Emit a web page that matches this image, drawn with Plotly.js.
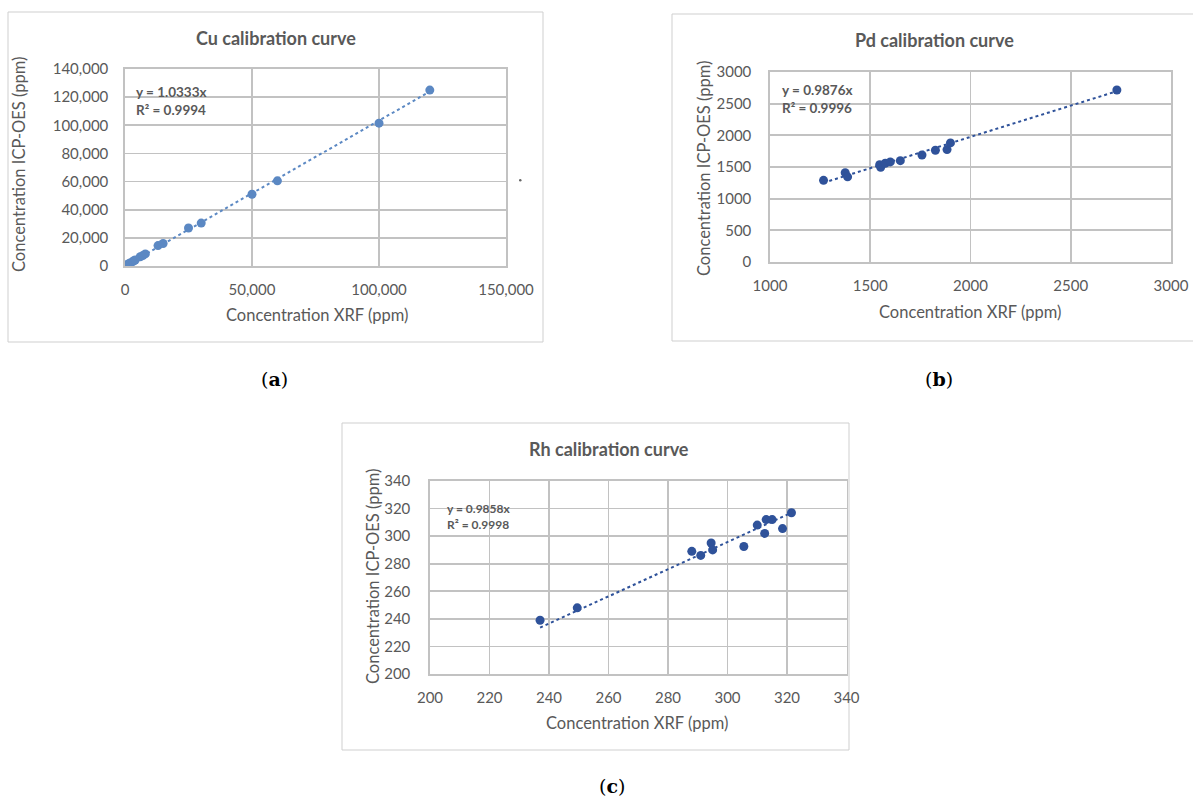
<!DOCTYPE html>
<html><head><meta charset="utf-8">
<script src="https://cdn.plot.ly/plotly-3.0.1.min.js"></script>
<style>html,body{margin:0;padding:0;background:#fff}</style>
</head><body><div id="chart" style="width:1193px;height:801px"></div>
<script>
// ---------- data ----------
const cuX = [500, 1000, 1500, 2000, 3000, 3500, 4000, 6000, 7000, 8000, 13000, 15000, 25000, 30000, 50000, 60000, 100000, 120000];
const cuY = [600, 1000, 1600, 2200, 3100, 3700, 4300, 6600, 7400, 8600, 14500, 16000, 27000, 30500, 51000, 60500, 101500, 125000];
const pdX = [1267, 1375, 1387, 1547, 1552, 1575, 1600, 1650, 1758, 1825, 1883, 1900, 2730];
const pdY = [1289, 1410, 1345, 1535, 1495, 1560, 1580, 1600, 1690, 1765, 1775, 1880, 2715];
const rhX = [237, 249.5, 288, 291, 294.5, 295, 305.5, 310, 312.5, 313, 315, 318.5, 321.5];
const rhY = [239, 248, 289, 286, 295, 290, 292.5, 308, 302, 312, 312, 305.5, 317];
const slopes = {cu: 1.0333, pd: 0.9876, rh: 0.9858};
const r2 = {cu: '0.9994', pd: '0.9996', rh: '0.9998'};
const titles = {cu: 'Cu calibration curve', pd: 'Pd calibration curve', rh: 'Rh calibration curve'};
const captions = ['a', 'b', 'c'];
const xTitle = 'Concentration XRF (ppm)';
const yTitle = 'Concentration ICP-OES (ppm)';

// ---------- helpers ----------
const W = 1193, H = 801;
const px = v => v / W, py = v => 1 - v / H;
const grey = '#595959', grid = '#c2c2c2';
const FONT = 'Lato, "Open Sans", sans-serif';
const cuCol = '#5b88c3', darkCol = '#2f529a';

function trend(xs, k) {
  const lo = Math.min(...xs), hi = Math.max(...xs);
  return {x: [lo, hi], y: [lo * k, hi * k]};
}
function axis(dom, range, dtick, fmt, std) {
  return {
    domain: dom, range: range, dtick: dtick, tick0: range[0], tickformat: fmt,
    showgrid: true, gridcolor: grid, gridwidth: 1.7, zeroline: false,
    showline: true, linecolor: grid, linewidth: 1.7, mirror: true,
    ticks: '', ticklabelstandoff: std,
    tickfont: {family: FONT, size: 15, color: grey}, fixedrange: true
  };
}

const tCu = trend(cuX, slopes.cu), tPd = trend(pdX, slopes.pd), tRh = trend(rhX, slopes.rh);
const mk = (c) => ({color: c, size: 9});
const data = [
  {x: tCu.x, y: tCu.y, mode: 'lines', line: {color: cuCol, width: 2, dash: 'dot'}, xaxis: 'x', yaxis: 'y', hoverinfo: 'skip'},
  {x: cuX, y: cuY, mode: 'markers', marker: mk(cuCol), xaxis: 'x', yaxis: 'y'},
  {x: tPd.x, y: tPd.y, mode: 'lines', line: {color: darkCol, width: 2, dash: 'dot'}, xaxis: 'x2', yaxis: 'y2', hoverinfo: 'skip'},
  {x: pdX, y: pdY, mode: 'markers', marker: mk(darkCol), xaxis: 'x2', yaxis: 'y2'},
  {x: tRh.x, y: tRh.y, mode: 'lines', line: {color: darkCol, width: 2, dash: 'dot'}, xaxis: 'x3', yaxis: 'y3', hoverinfo: 'skip'},
  {x: rhX, y: rhY, mode: 'markers', marker: mk(darkCol), xaxis: 'x3', yaxis: 'y3'}
];

const xa1 = axis([px(125), px(506)], [0, 150000], 50000, ',d', 9);
const ya1 = axis([py(266), py(69)], [0, 140000], 20000, ',d', 12);
const xa2 = axis([px(770), px(1171)], [1000, 3000], 500, 'd', 9);
const ya2 = axis([py(262), py(72)], [0, 3000], 500, 'd', 14);
const xa3 = axis([px(430), px(846.5)], [200, 340], 20, 'd', 9);
const ya3 = axis([py(674), py(481)], [200, 340], 20, 'd', 15);
ya1.anchor = 'x'; xa1.anchor = 'y';
xa2.anchor = 'y2'; ya2.anchor = 'x2';
xa3.anchor = 'y3'; ya3.anchor = 'x3';

const tfont = {family: FONT, size: 16.5, color: grey};
const annotations = [];
function addText(text, x, y, font, xanchor, yanchor, extra) {
  annotations.push(Object.assign({text: text, xref: 'paper', yref: 'paper', x: px(x), y: py(y),
    xanchor: xanchor || 'center', yanchor: yanchor || 'middle', showarrow: false, font: font}, extra || {}));
}
// chart titles
const titleFont = {family: FONT, size: 18, color: grey};
addText('<b>' + titles.cu + '</b>', 276, 38, titleFont);
addText('<b>' + titles.pd + '</b>', 934, 40, titleFont);
addText('<b>' + titles.rh + '</b>', 609, 449, titleFont);
// axis titles
addText(xTitle, 317, 315, tfont);
addText(yTitle, 19, 165, tfont, 'center', 'middle', {textangle: -90});
addText(xTitle, 970, 312, tfont);
addText(yTitle, 704, 168, tfont, 'center', 'middle', {textangle: -90});
addText(xTitle, 637, 723, tfont);
addText(yTitle, 373, 577, tfont, 'center', 'middle', {textangle: -90});
// equations
const eqFont = {family: FONT, size: 13.5, color: grey};
addText('<b>y = ' + slopes.cu.toFixed(4) + 'x<br>R² = ' + r2.cu + '</b>', 134, 101, eqFont, 'left', 'middle', {align: 'left'});
addText('<b>y = ' + slopes.pd.toFixed(4) + 'x<br>R² = ' + r2.pd + '</b>', 780, 99, eqFont, 'left', 'middle', {align: 'left'});
addText('<b>y = ' + slopes.rh.toFixed(4) + 'x<br>R² = ' + r2.rh + '</b>', 445, 516, {family: FONT, size: 12, color: grey}, 'left', 'middle', {align: 'left'});
// captions
const capFont = {family: '"DejaVu Serif", serif', size: 19, color: '#000'};
addText('(<b>' + captions[0] + '</b>)', 274, 379, capFont);
addText('(<b>' + captions[1] + '</b>)', 939, 379, capFont);
addText('(<b>' + captions[2] + '</b>)', 612, 786, capFont);

const box = (x0, y0, x1, y1) => ({type: 'rect', xref: 'paper', yref: 'paper',
  x0: px(x0), x1: px(x1), y0: py(y1), y1: py(y0), line: {color: '#cfcfcf', width: 1}, fillcolor: 'rgba(0,0,0,0)', layer: 'below'});
const shapes = [
  box(8, 12, 543, 342),
  box(672, 14, 1200, 341),
  box(342, 423, 849, 750),
  {type: 'circle', xref: 'paper', yref: 'paper', x0: px(519), x1: px(521.5), y0: py(181.5), y1: py(179), fillcolor: '#666', line: {width: 0}}
];

const layout = {
  width: W, height: H, margin: {l: 0, r: 0, t: 0, b: 0},
  paper_bgcolor: '#fff', plot_bgcolor: '#fff', showlegend: false,
  xaxis: xa1, yaxis: ya1, xaxis2: xa2, yaxis2: ya2, xaxis3: xa3, yaxis3: ya3,
  annotations: annotations, shapes: shapes,
  font: {family: FONT}
};
Plotly.newPlot('chart', data, layout, {staticPlot: true, displayModeBar: false});
</script></body></html>
